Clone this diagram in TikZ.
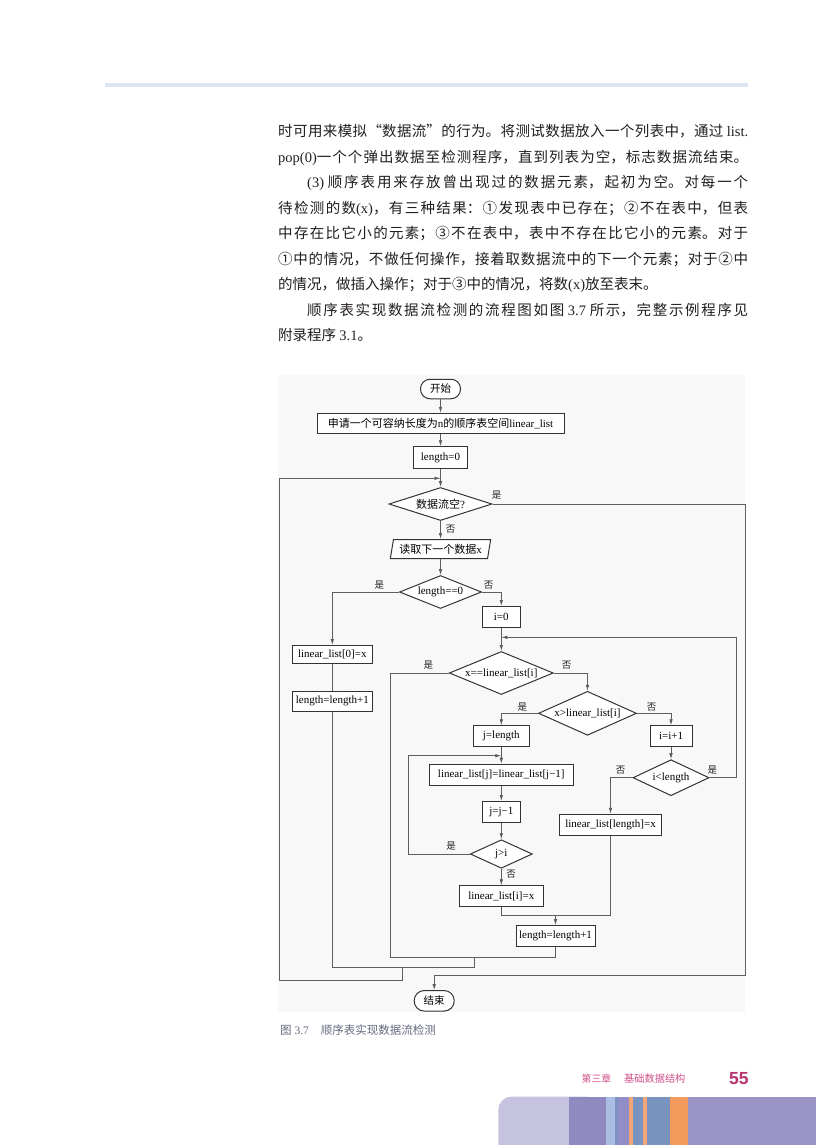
\documentclass[tikz,border=0pt]{standalone}
\usepackage{fontspec}
\setmainfont{Liberation Serif}
\newfontfamily\zhfont{Noto Sans CJK SC}
\newfontfamily\numfont{Liberation Sans}
\usetikzlibrary{shapes.geometric,arrows.meta}
\definecolor{bodyc}{HTML}{231F20}
\definecolor{rulec}{HTML}{DCE3F3}
\definecolor{bgc}{HTML}{F8F8F8}
\definecolor{boxc}{HTML}{333333}
\definecolor{linec}{HTML}{5E5E5E}
\definecolor{capc}{HTML}{666A80}
\definecolor{footc}{HTML}{CF4F8A}
\definecolor{pagec}{HTML}{B8336F}
\definecolor{barA}{HTML}{C5C3E0}
\definecolor{barB}{HTML}{8F8AC0}
\definecolor{barC}{HTML}{ABBDE2}
\definecolor{barD}{HTML}{7C94C3}
\definecolor{barE}{HTML}{928DC6}
\definecolor{barF}{HTML}{F2A577}
\definecolor{barG}{HTML}{7A93C1}
\definecolor{barI}{HTML}{7893BD}
\definecolor{barJ}{HTML}{F29A5C}
\definecolor{barK}{HTML}{9B94C6}
\newcommand\flowfont{\fontsize{11}{11}\selectfont}
\tikzset{
  box/.style={draw=boxc, line width=1pt, fill=white, inner sep=0pt, minimum height=21pt, font=\flowfont},
  dec/.style={diamond, draw=boxc, line width=1pt, fill=white, inner sep=0pt, aspect=2.4, font=\flowfont},
  term/.style={draw=boxc, line width=1pt, fill=white, rounded corners=9.5pt, inner sep=0pt, minimum width=40pt, minimum height=19.5pt, font=\zhfont\fontsize{10.5}{10.5}\selectfont},
  iobox/.style={trapezium, trapezium left angle=75, trapezium right angle=105, trapezium stretches=true, draw=boxc, line width=1pt, fill=white, inner sep=0pt, minimum width=101pt, minimum height=19pt, font=\flowfont},
  ln/.style={draw=linec, line width=0.8pt},
  arr/.style={ln, -{Latex[length=6pt,width=3.6pt]}},
  lab/.style={font=\zhfont\fontsize{9.5}{9.5}\selectfont, inner sep=0pt, text=bodyc}
}
\begin{document}
\begin{tikzpicture}[x=1pt,y=-1pt]
\useasboundingbox (0,0) rectangle (816,1145);
\fill[white] (0,0) rectangle (816,1145);
% top rule
\fill[rulec] (105,83) rectangle (748,87);
% body text
\node[anchor=north west, inner sep=0pt, text width=470pt, align=justify, text=bodyc,
      font=\zhfont\fontsize{14.5}{25.5}\selectfont] (body) at (278,124.5) {%
\XeTeXlinebreaklocale "zh"\XeTeXlinebreakskip=0pt plus 6pt\parindent=0pt\relax
\noindent 时可用来模拟“数据流”的行为。将测试数据放入一个列表中，通过 {\rmfamily list.}\linebreak
{\rmfamily pop(0)}一个个弹出数据至检测程序，直到列表为空，标志数据流结束。\parfillskip=0pt\par
\parfillskip=0pt plus 1fil
\noindent\hspace*{2em}{\rmfamily (3)} 顺序表用来存放曾出现过的数据元素，起初为空。对每一个\linebreak
待检测的数{\rmfamily (x)}，有三种结果：①发现表中已存在；②不在表中，但表\linebreak
中存在比它小的元素；③不在表中，表中不存在比它小的元素。对于\linebreak
①中的情况，不做任何操作，接着取数据流中的下一个元素；对于②中\linebreak
的情况，做插入操作；对于③中的情况，将数{\rmfamily (x)}放至表末。\par
\noindent\hspace*{2em}顺序表实现数据流检测的流程图如图 {\rmfamily 3.7} 所示，完整示例程序见\linebreak
附录程序 {\rmfamily 3.1}。\par};
% flowchart background
\fill[bgc] (278,375) rectangle (745,1012);
% nodes
\node[term] (start) at (440.5,389) {开始};
\node[box, minimum width=247pt, minimum height=20pt] (apply) at (440.5,423.3) {{\zhfont 申请一个可容纳长度为}n{\zhfont 的顺序表空间}linear\_list};
\node[box, minimum width=54pt, minimum height=21.5pt] (len0) at (440.5,457.5) {length=0};
\node[dec, minimum width=103pt, minimum height=33pt, aspect=3.1] (empty) at (440.5,504) {{\zhfont 数据流空}?};
\node[iobox] (read) at (440.5,549) {{\zhfont 读取下一个数据}x};
\node[dec, minimum width=82pt, minimum height=33pt, aspect=2.5] (lenq) at (440.5,592) {length==0};
\node[box, minimum width=80.5pt, minimum height=18pt] (ll0) at (332.3,654.5) {linear\_list[0]=x};
\node[box, minimum width=80pt, minimum height=19.5pt] (lenL) at (332.3,701.3) {length=length+1};
\node[box, minimum width=38.5pt] (i0) at (501.3,617) {i=0};
\node[dec, minimum width=104pt, minimum height=43pt, aspect=2.42] (xeq) at (501.3,673) {x==linear\_list[i]};
\node[dec, minimum width=98pt, minimum height=44pt, aspect=2.23] (xgt) at (587.5,713.3) {x>linear\_list[i]};
\node[box, minimum width=56pt] (jlen) at (501.3,736.3) {j=length};
\node[box, minimum width=42pt] (ii1) at (671,736.3) {i=i+1};
\node[box, minimum width=144pt] (shift) at (501.3,774.7) {linear\_list[j]=linear\_list[j−1]};
\node[dec, minimum width=76pt, minimum height=36pt, aspect=2.1] (ilt) at (671,777.7) {i<length};
\node[box, minimum width=38.5pt] (jj1) at (501.3,812) {j=j−1};
\node[dec, minimum width=62pt, minimum height=28.5pt, aspect=2.2] (jgti) at (501.3,854) {j>i};
\node[box, minimum width=83.5pt] (llix) at (501.3,896.3) {linear\_list[i]=x};
\node[box, minimum width=102pt, minimum height=21.5pt] (lllen) at (610.5,825) {linear\_list[length]=x};
\node[box, minimum width=79pt, minimum height=20.5pt] (lenR) at (555.5,935.8) {length=length+1};
\node[term, minimum height=20.5pt, rounded corners=10pt] (end) at (434.2,1000.8) {结束};
% coordinates
\coordinate (j1) at (440.5,478.3);
\coordinate (j2) at (501.3,637.3);
\coordinate (j3) at (501.3,755.7);
\coordinate (cB) at (474,967.3);
\coordinate (cC) at (474,957.3);
\coordinate (cD) at (390,957.3);
\coordinate (cE) at (555.5,957.3);
\coordinate (cF) at (402.7,967.3);
\coordinate (cG) at (279,980);
\coordinate (cH) at (279,478.3);
\coordinate (cI) at (745,975);
\coordinate (cJ) at (408.3,755.7);
\coordinate (cK) at (736,637.3);
\coordinate (cL) at (610.5,915);
\coordinate (cM) at (555.5,915);
% connectors
\draw[arr] (start) -- (apply);
\draw[arr] (apply) -- (len0);
\draw[arr] (len0) -- (empty);
\draw[arr] (empty.east) -| (cI) -| (end.north);
\draw[arr] (empty) -- (read);
\draw[arr] (read) -- (lenq);
\draw[arr] (lenq.west) -| (ll0.north);
\draw[arr] (lenq.east) -| (i0.north);
\draw[ln] (ll0) -- (lenL);
\draw[ln] (lenL.south) |- (cB) -- (cC);
\draw[ln] (xeq.west) -| (cD) -- (cE) -- (lenR.south);
\draw[arr] (cF) |- (cG) -- (cH) -- (j1);
\draw[arr] (i0) -- (xeq);
\draw[arr] (xeq.east) -| (xgt.north);
\draw[arr] (xgt.west) -| (jlen.north);
\draw[arr] (xgt.east) -| (ii1.north);
\draw[arr] (jlen) -- (shift);
\draw[arr] (shift) -- (jj1);
\draw[arr] (jj1) -- (jgti);
\draw[arr] (jgti) -- (llix);
\draw[arr] (jgti.west) -| (cJ) -- (j3);
\draw[arr] (ii1) -- (ilt);
\draw[arr] (ilt.west) -| (lllen.north);
\draw[arr] (ilt.east) -| (cK) -- (j2);
\draw[ln] (llix.south) |- (cL) -- (lllen.south);
\draw[arr] (cM) -- (lenR.north);
% labels
\node[lab] (y1) at (496.7,495.5) {是};
\node[lab] (n1) at (450.5,529) {否};
\node[lab] (y2) at (379.3,585.5) {是};
\node[lab] (n2) at (488.7,585.5) {否};
\node[lab] (y3) at (428.3,665) {是};
\node[lab] (n3) at (566.7,665) {否};
\node[lab] (y4) at (522.3,706.7) {是};
\node[lab] (n4) at (651.7,706.7) {否};
\node[lab] (n5) at (620.7,770) {否};
\node[lab] (y5) at (712.3,770) {是};
\node[lab] (y6) at (451,845.7) {是};
\node[lab] (n6) at (511,874) {否};
% caption
\node[anchor=west, inner sep=0pt, text=capc, font=\fontsize{11.5}{11.5}\selectfont] (cap) at (280,1030)
  {{\zhfont 图} 3.7\hspace{12pt}{\zhfont 顺序表实现数据流检测}};
% footer
\node[anchor=west, inner sep=0pt, text=footc, font=\zhfont\fontsize{9.8}{9.8}\selectfont] (ch) at (581.5,1078.5) {第三章};
\node[anchor=west, inner sep=0pt, text=footc, font=\zhfont\fontsize{10.2}{10.2}\selectfont] (chn) at (624,1078.5) {基础数据结构};
\node[inner sep=0pt, text=pagec, font=\numfont\bfseries\fontsize{17.5}{17.5}\selectfont] (pg) at (738.8,1078.7) {55};
% bottom bar
\fill[barA] (498.3,1145) [rounded corners=13pt] -- (498.3,1096.7) -- (600,1096.7) [sharp corners] -- (600,1145) -- cycle;
\fill[barB] (569.3,1096.7) rectangle (606,1145);
\fill[barC] (606,1096.7) rectangle (615,1145);
\fill[barD] (615,1096.7) rectangle (618.3,1145);
\fill[barE] (618.3,1096.7) rectangle (629.3,1145);
\fill[barF] (629.3,1096.7) rectangle (632.7,1145);
\fill[barG] (632.7,1096.7) rectangle (643.3,1145);
\fill[barF] (643.3,1096.7) rectangle (646.7,1145);
\fill[barI] (646.7,1096.7) rectangle (670,1145);
\fill[barJ] (670,1096.7) rectangle (688.3,1145);
\fill[barK] (688.3,1096.7) rectangle (816,1145);
\end{tikzpicture}
\end{document}
